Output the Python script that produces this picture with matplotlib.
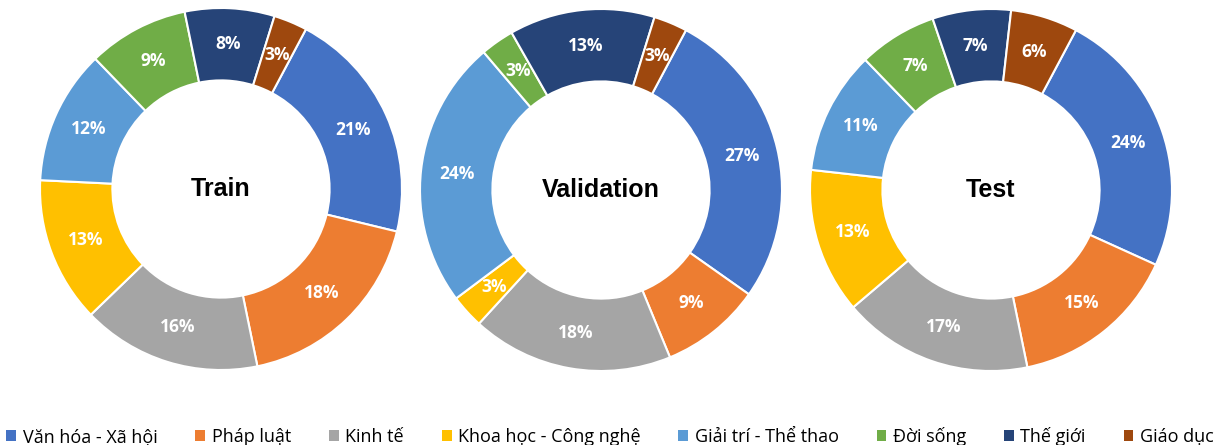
import matplotlib
matplotlib.use("Agg")
import matplotlib.pyplot as plt
from matplotlib.patches import Patch

categories = ["Văn hóa - Xã hội", "Pháp luật", "Kinh tế", "Khoa học - Công nghệ",
              "Giải trí - Thể thao", "Đời sống", "Thế giới", "Giáo dục"]
train = [21, 18, 16, 13, 12, 9, 8, 3]
validation = [27, 9, 18, 3, 24, 3, 13, 3]
test = [24, 15, 17, 13, 11, 7, 7, 6]
splits = ["Train", "Validation", "Test"]

colors = ["#4472C4", "#ED7D31", "#A5A5A5", "#FFC000",
          "#5B9BD5", "#70AD47", "#264478", "#9E480E"]

label_font = ["Open Sans", "DejaVu Sans"]

W, H = 1220, 445
fig = plt.figure(figsize=(W / 100, H / 100), dpi=100)

centers = [(221, 189), (601, 190), (991, 190)]
r = 181

for (cx, cy), name, vals in zip(centers, splits, [train, validation, test]):
    ax = fig.add_axes([(cx - r) / W, (H - cy - r) / H, 2 * r / W, 2 * r / H])
    wedges, texts, autotexts = ax.pie(
        vals, colors=colors, startangle=62, counterclock=False,
        radius=1, autopct="%d%%", pctdistance=0.8,
        wedgeprops=dict(width=0.4, edgecolor="white", linewidth=1.5))
    for t in autotexts:
        t.set_color("white")
        t.set_fontweight("bold")
        t.set_fontsize(12.5)
        t.set_family(label_font)
    ax.text(0, 0, name, ha="center", va="center", fontsize=18,
            fontweight="bold", family="Liberation Sans")
    ax.set_xlim(-1, 1)
    ax.set_ylim(-1, 1)
    ax.set_aspect("equal")
    ax.axis("off")

handles = [Patch(facecolor=c, edgecolor="none") for c in colors]
leg = fig.legend(handles, categories, loc="lower center", ncol=8,
                 bbox_to_anchor=(0.5, -0.038), frameon=False,
                 prop={"family": label_font, "size": 13},
                 handlelength=0.55, handleheight=0.55, handletextpad=0.35,
                 columnspacing=2.1)

fig.savefig("out.png", dpi=100)
